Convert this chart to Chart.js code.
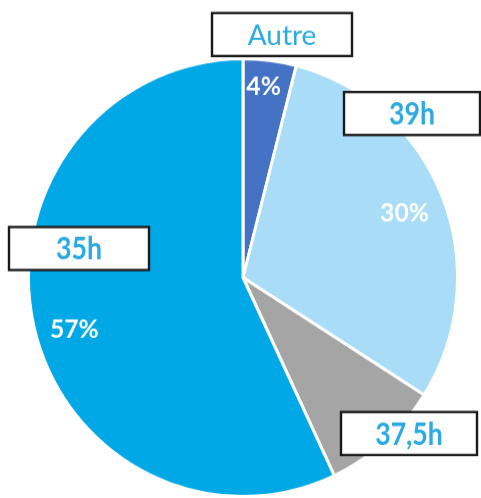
<!DOCTYPE html>
<html>
<head>
<meta charset="utf-8">
<script src="https://cdn.jsdelivr.net/npm/chart.js@4/dist/chart.umd.min.js"></script>
<style>
  html, body { margin: 0; padding: 0; background: #ffffff; }
  #wrap { width: 481px; height: 498px; position: relative; }
</style>
</head>
<body>
<div id="wrap"><canvas id="c" width="481" height="488" style="width:481px;height:498px;display:block"></canvas></div>
<script>
// ---- data ----
const categories = ["Autre", "39h", "37,5h", "35h"];
const shares = [4, 30, 9, 57];
const percentLabels = ["4%", "30%", "", "57%"];

// ---- styling / layout ----
const sliceColors = ["#4472C4", "#A9DDF7", "#A5A5A5", "#00A8E6"];
const labelColor = "#2AAAE1";
const stretchY = 498 / 488;   // reference pie is slightly taller than wide
const boxes = [
  { x: 212, y: 13, w: 140, h: 43, weight: "normal", size: 28, sx: 1 },
  { x: 344, y: 92, w: 136, h: 43, weight: "bold", size: 31, sx: 0.86 },
  { x: 341, y: 412, w: 136, h: 43, weight: "bold", size: 31, sx: 0.86 },
  { x: 9,   y: 227, w: 140, h: 43, weight: "bold", size: 31, sx: 0.86 }
];
const pctRadius = [0.88, 0.81, 0.81, 0.82];
const pctShift = [[-3, 0], [0, 1], [0, 0], [3, 13]];

const labelPlugin = {
  id: "labels",
  afterDatasetsDraw(chart) {
    const ctx = chart.ctx;
    const meta = chart.getDatasetMeta(0);
    ctx.save();
    ctx.scale(1, 1 / stretchY); // draw labels in screen pixels
    // percentages inside slices
    meta.data.forEach((arc, i) => {
      const txt = percentLabels[i];
      if (!txt) return;
      const p = arc.getProps(["x", "y", "startAngle", "endAngle", "outerRadius"], true);
      const mid = (p.startAngle + p.endAngle) / 2;
      const r = p.outerRadius * pctRadius[i];
      const px = p.x + Math.cos(mid) * r + pctShift[i][0];
      const py = (p.y + Math.sin(mid) * r) * stretchY + pctShift[i][1];
      ctx.fillStyle = "#ffffff";
      ctx.font = "bold 26px Lato";
      ctx.textAlign = "center";
      ctx.textBaseline = "middle";
      ctx.save();
      ctx.translate(px, py);
      ctx.scale(0.95, 1);
      ctx.fillText(txt, 0, 0);
      ctx.restore();
    });
    // category boxes
    categories.forEach((cat, i) => {
      const b = boxes[i];
      ctx.fillStyle = "#ffffff";
      ctx.fillRect(b.x, b.y, b.w, b.h);
      ctx.strokeStyle = "#1a1a1a";
      ctx.lineWidth = 2.4;
      ctx.strokeRect(b.x, b.y, b.w, b.h);
      ctx.fillStyle = labelColor;
      ctx.font = b.weight + " " + b.size + "px Lato";
      ctx.textAlign = "center";
      ctx.textBaseline = "middle";
      ctx.save();
      ctx.translate(b.x + b.w / 2, b.y + b.h / 2 + 1);
      ctx.scale(b.sx, 1);
      ctx.fillText(cat, 0, 0);
      ctx.restore();
    });
    ctx.restore();
  }
};

new Chart(document.getElementById("c"), {
  type: "pie",
  data: {
    labels: categories,
    datasets: [{
      data: shares,
      backgroundColor: sliceColors,
      borderColor: "#ffffff",
      borderWidth: 3
    }]
  },
  options: {
    responsive: false,
    animation: false,
    layout: { padding: { top: 56, bottom: 0, left: 5, right: 0 } },
    plugins: {
      legend: { display: false },
      tooltip: { enabled: false },
      title: { display: false }
    }
  },
  plugins: [labelPlugin]
});
</script>
</body>
</html>
